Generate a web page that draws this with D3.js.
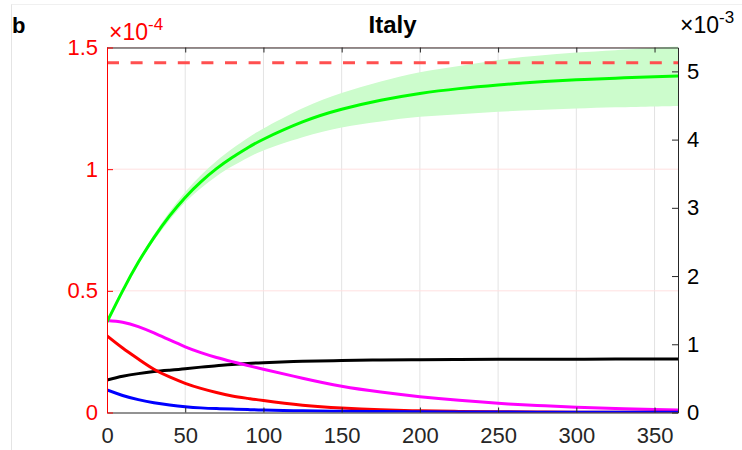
<!DOCTYPE html>
<html>
<head lang="en">
    <meta charset="UTF-8">
    <title>Italy</title>
    <style>
        body { margin: 0; background: #fff; }
        text { font-family: "Liberation Sans", Arial, sans-serif; }
    </style>
</head>
<body>
<div id="chart"></div>
<script src="https://cdnjs.cloudflare.com/ajax/libs/d3/7.8.5/d3.min.js"></script>
<script>
// days on the x axis
var days = [0, 10, 20, 30, 40, 50, 60, 70, 80, 90, 100, 125, 150, 175, 200, 225, 250, 275, 300, 325, 350, 365];

// left axis series, in units of 1e-4
var green      = [0.372, 0.50, 0.617, 0.719, 0.808, 0.884, 0.948, 1.002, 1.048, 1.088, 1.123, 1.194, 1.246, 1.283, 1.311, 1.331, 1.346, 1.358, 1.367, 1.374, 1.380, 1.383];
var greenUpper = [0.372, 0.504, 0.624, 0.731, 0.825, 0.906, 0.975, 1.034, 1.084, 1.128, 1.167, 1.25, 1.313, 1.36, 1.398, 1.424, 1.449, 1.466, 1.479, 1.489, 1.499, 1.505];
var greenLower = [0.372, 0.496, 0.61, 0.707, 0.791, 0.864, 0.922, 0.971, 1.012, 1.047, 1.077, 1.131, 1.171, 1.196, 1.215, 1.226, 1.236, 1.243, 1.249, 1.254, 1.258, 1.26];
var magenta    = [0.378, 0.371, 0.353, 0.327, 0.298, 0.27, 0.246, 0.226, 0.209, 0.193, 0.178, 0.141, 0.108, 0.084, 0.065, 0.05, 0.038, 0.029, 0.022, 0.016, 0.012, 0.01];
var red        = [0.315, 0.265, 0.22, 0.178, 0.146, 0.12, 0.099, 0.082, 0.068, 0.058, 0.049, 0.03, 0.018, 0.011, 0.007, 0.0045, 0.003, 0.002, 0.0015, 0.001, 0.001, 0.001];
var blue       = [0.093, 0.07, 0.053, 0.04, 0.031, 0.024, 0.019, 0.016, 0.014, 0.012, 0.01, 0.007, 0.005, 0.004, 0.003, 0.002, 0.002, 0.001, 0.001, 0.001, 0.001, 0.001];
var dashedLevel = 1.437;

// right axis series, in units of 1e-3
var black = [0.477, 0.53, 0.57, 0.60, 0.62, 0.64, 0.665, 0.685, 0.705, 0.72, 0.73, 0.75, 0.762, 0.77, 0.775, 0.778, 0.78, 0.781, 0.782, 0.783, 0.783, 0.784];

var xTicks = [0, 50, 100, 150, 200, 250, 300, 350];
var leftTicks = [0, 0.5, 1, 1.5];
var leftTickLabels = ["0", "0.5", "1", "1.5"];
var rightTicks = [0, 1, 2, 3, 4, 5];

var width = 742, height = 450;
var plotLeft = 107, plotRight = 678, plotTop = 47.5, plotBottom = 412.5;

var svg = d3.select("#chart").append("svg")
        .attr("width", width)
        .attr("height", height);

// faint panel border lines
svg.append("line").attr("x1", 11.5).attr("x2", 11.5).attr("y1", 4).attr("y2", height)
        .attr("stroke", "#e4e4e4").attr("stroke-width", 1);
svg.append("line").attr("x1", 11.5).attr("x2", width).attr("y1", 4.5).attr("y2", 4.5)
        .attr("stroke", "#f0f0f0").attr("stroke-width", 1);

var x = d3.scaleLinear().domain([0, 365]).range([plotLeft, plotRight]);
var yL = d3.scaleLinear().domain([0, 1.5]).range([plotBottom, plotTop]);
var yR = d3.scaleLinear().domain([0, 5.35]).range([plotBottom, plotTop]);

svg.append("clipPath").attr("id", "plotclip")
        .append("rect")
        .attr("x", plotLeft).attr("y", plotTop - 1)
        .attr("width", plotRight - plotLeft).attr("height", plotBottom - plotTop + 1);

// grid
svg.append("g").selectAll("line").data(xTicks.slice(1)).enter().append("line")
        .attr("x1", function (d) { return x(d); })
        .attr("x2", function (d) { return x(d); })
        .attr("y1", plotTop).attr("y2", plotBottom)
        .attr("stroke", "#e3e3e3").attr("stroke-width", 1);
svg.append("g").selectAll("line").data(leftTicks.slice(1)).enter().append("line")
        .attr("x1", plotLeft).attr("x2", plotRight)
        .attr("y1", function (d) { return yL(d); })
        .attr("y2", function (d) { return yL(d); })
        .attr("stroke", "#ffe0e0").attr("stroke-width", 1);

var plot = svg.append("g").attr("clip-path", "url(#plotclip)");

// confidence band
var band = d3.area()
        .x(function (d, i) { return x(days[i]); })
        .y0(function (d, i) { return yL(greenLower[i]); })
        .y1(function (d, i) { return yL(greenUpper[i]); })
        .curve(d3.curveNatural);
plot.append("path").datum(days)
        .attr("d", band)
        .attr("fill", "#ccfccc");

// dashed level
plot.append("line")
        .attr("x1", x(0)).attr("x2", x(365))
        .attr("y1", yL(dashedLevel)).attr("y2", yL(dashedLevel))
        .attr("stroke", "#ff4f4f").attr("stroke-width", 3)
        .attr("stroke-dasharray", "12,11.6");

function drawLine(values, scale, color) {
    var line = d3.line()
            .x(function (d, i) { return x(days[i]); })
            .y(function (d) { return scale(d); })
            .curve(d3.curveNatural);
    plot.append("path").datum(values)
            .attr("d", line)
            .attr("fill", "none")
            .attr("stroke", color)
            .attr("stroke-width", 3);
}
drawLine(black, yR, "#000000");
drawLine(magenta, yL, "#ff00ff");
drawLine(red, yL, "#ff0000");
drawLine(blue, yL, "#0000ff");
drawLine(green, yL, "#00ff00");

// axes
var fmtLeft = function (d) { return leftTickLabels[leftTicks.indexOf(d)]; };
var tickFont = "'Liberation Sans', Arial, sans-serif";

var gTop = svg.append("g").attr("transform", "translate(0," + plotTop + ")")
        .call(d3.axisTop(x).tickValues(xTicks).tickSize(-5).tickSizeOuter(0).tickFormat(""));
gTop.select(".domain").attr("stroke", "#262626");
gTop.selectAll(".tick line").attr("stroke", "#262626");

var gBottom = svg.append("g").attr("transform", "translate(0," + plotBottom + ")")
        .call(d3.axisBottom(x).tickValues(xTicks).tickSize(-5).tickSizeOuter(0).tickPadding(15));
gBottom.select(".domain").attr("stroke", "#262626");
gBottom.selectAll(".tick line").attr("stroke", "#262626");
gBottom.selectAll("text").attr("fill", "#262626").style("font-size", "22px")
        .style("font-family", tickFont);

var gRight = svg.append("g").attr("transform", "translate(" + plotRight + ",0)")
        .call(d3.axisRight(yR).tickValues(rightTicks).tickSize(-6).tickSizeOuter(0).tickPadding(9).tickFormat(d3.format("d")));
gRight.select(".domain").attr("stroke", "#262626");
gRight.selectAll(".tick line").attr("stroke", "#262626");
gRight.selectAll("text").attr("fill", "#000").style("font-size", "22px")
        .style("font-family", tickFont);

var gLeft = svg.append("g").attr("transform", "translate(" + plotLeft + ",0)")
        .call(d3.axisLeft(yL).tickValues(leftTicks).tickSize(-6).tickSizeOuter(0).tickPadding(9).tickFormat(fmtLeft));
gLeft.select(".domain").attr("stroke", "#ff0000");
gLeft.selectAll(".tick line").attr("stroke", "#ff0000");
gLeft.selectAll("text").attr("fill", "#ff0000").style("font-size", "22px")
        .style("font-family", tickFont);

// exponent labels
var expL = svg.append("text").attr("x", 109).attr("y", 40)
        .attr("fill", "#ff0000").style("font-size", "23px");
expL.append("tspan").text("\u00d710");
expL.append("tspan").attr("dy", -10).style("font-size", "17px").text("-4");

var expR = svg.append("text").attr("x", 680).attr("y", 33)
        .attr("fill", "#000").style("font-size", "23px");
expR.append("tspan").text("\u00d710");
expR.append("tspan").attr("dy", -10).style("font-size", "17px").text("-3");

// title and panel letter
svg.append("text").attr("x", (plotLeft + plotRight) / 2).attr("y", 33)
        .attr("text-anchor", "middle")
        .style("font-size", "24px").style("font-weight", "bold")
        .text("Italy");
svg.append("text").attr("x", 12).attr("y", 33)
        .style("font-size", "22px").style("font-weight", "bold")
        .text("b");
</script>
</body>
</html>
